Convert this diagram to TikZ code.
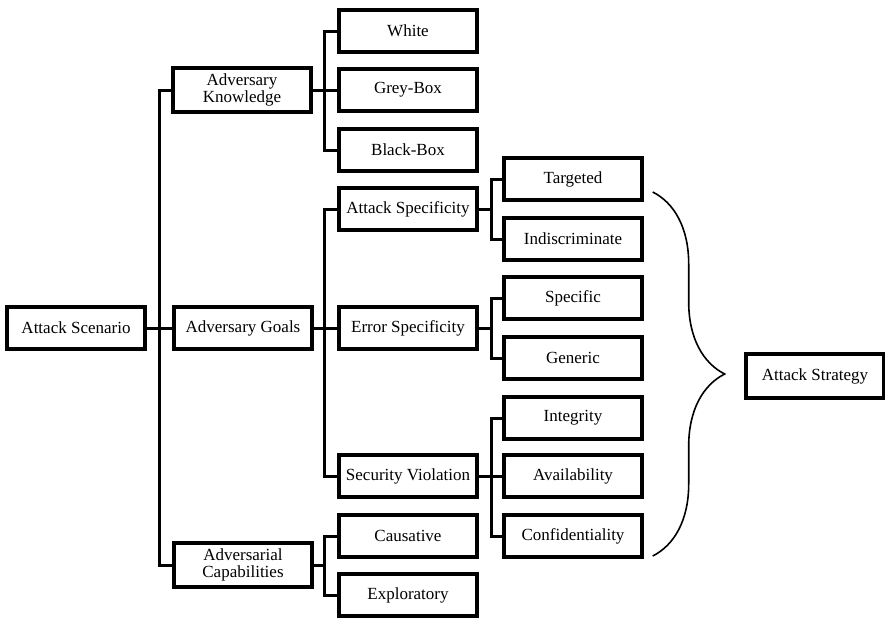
\documentclass[tikz,border=0pt]{standalone}
\usepackage{fontspec}
\setmainfont{Liberation Serif}
\usetikzlibrary{calc,decorations.pathreplacing}

\begin{document}
\begin{tikzpicture}[
    x=0.5pt, y=-0.5pt,
    box/.style={draw, line width=1.7pt, minimum width=69pt, minimum height=21pt, inner sep=1pt, align=center, font=\fontsize{8.5}{8.4}\selectfont},
    tall/.style={box, minimum height=22pt},
    link/.style={line width=1.5pt},
    brc/.style={line width=0.8pt, decorate, decoration={brace, amplitude=36pt}}
]
\useasboundingbox (0,0) rectangle (885,617);

\node[box] (as) at (76,328) {Attack Scenario};

\node[tall] (ak) at (242,90) {Adversary\\Knowledge};
\node[box] (ag) at (243,328) {Adversary Goals};
\node[tall] (ac) at (243,565) {Adversarial\\Capabilities};

\node[box] (wh) at (408,31) {White};
\node[box] (gb) at (408,90) {Grey-Box};
\node[box] (bb) at (408,150) {Black-Box};
\node[box] (asp) at (408,209) {Attack Specificity};
\node[box] (es) at (408,328) {Error Specificity};
\node[box] (sv) at (408,476) {Security Violation};
\node[box] (ca) at (408,536) {Causative};
\node[box] (ex) at (408,595) {Exploratory};

\node[box] (tg) at (573,179) {Targeted};
\node[box] (ind) at (573,239) {Indiscriminate};
\node[box] (sp) at (573,298) {Specific};
\node[box] (ge) at (573,358) {Generic};
\node[box] (in) at (573,418) {Integrity};
\node[box] (av) at (573,476) {Availability};
\node[box] (co) at (573,536) {Confidentiality};

\node[tall] (st) at (815,376) {Attack Strategy};

% junctions of the tree
\coordinate (j1) at (159,328);
\coordinate (j2) at (324,90);
\coordinate (j3) at (324,328);
\coordinate (j4) at (324,565);
\coordinate (j5) at (491,209);
\coordinate (j6) at (491,328);
\coordinate (j7) at (491,476);

\draw[link] (as) -- (ag);
\draw[link] (ak.west) -| (j1) |- (ac.west);

\draw[link] (ak) -- (gb);
\draw[link] (wh.west) -| (j2) |- (bb.west);
\draw[link] (ag) -- (es);
\draw[link] (asp.west) -| (j3) |- (sv.west);
\draw[link] (ac.east) -- (j4);
\draw[link] (ca.west) -| (j4) |- (ex.west);

\draw[link] (asp.east) -- (j5);
\draw[link] (tg.west) -| (j5) |- (ind.west);
\draw[link] (es.east) -- (j6);
\draw[link] (sp.west) -| (j6) |- (ge.west);
\draw[link] (sv) -- (av);
\draw[link] (in.west) -| (j7) |- (co.west);

% brace to the strategy box
\coordinate (b1) at ($(tg.east)+(9,13)$);
\coordinate (b2) at ($(co.east)+(9,20)$);
\draw[brc] (b1) -- (b2);
\end{tikzpicture}
\end{document}
